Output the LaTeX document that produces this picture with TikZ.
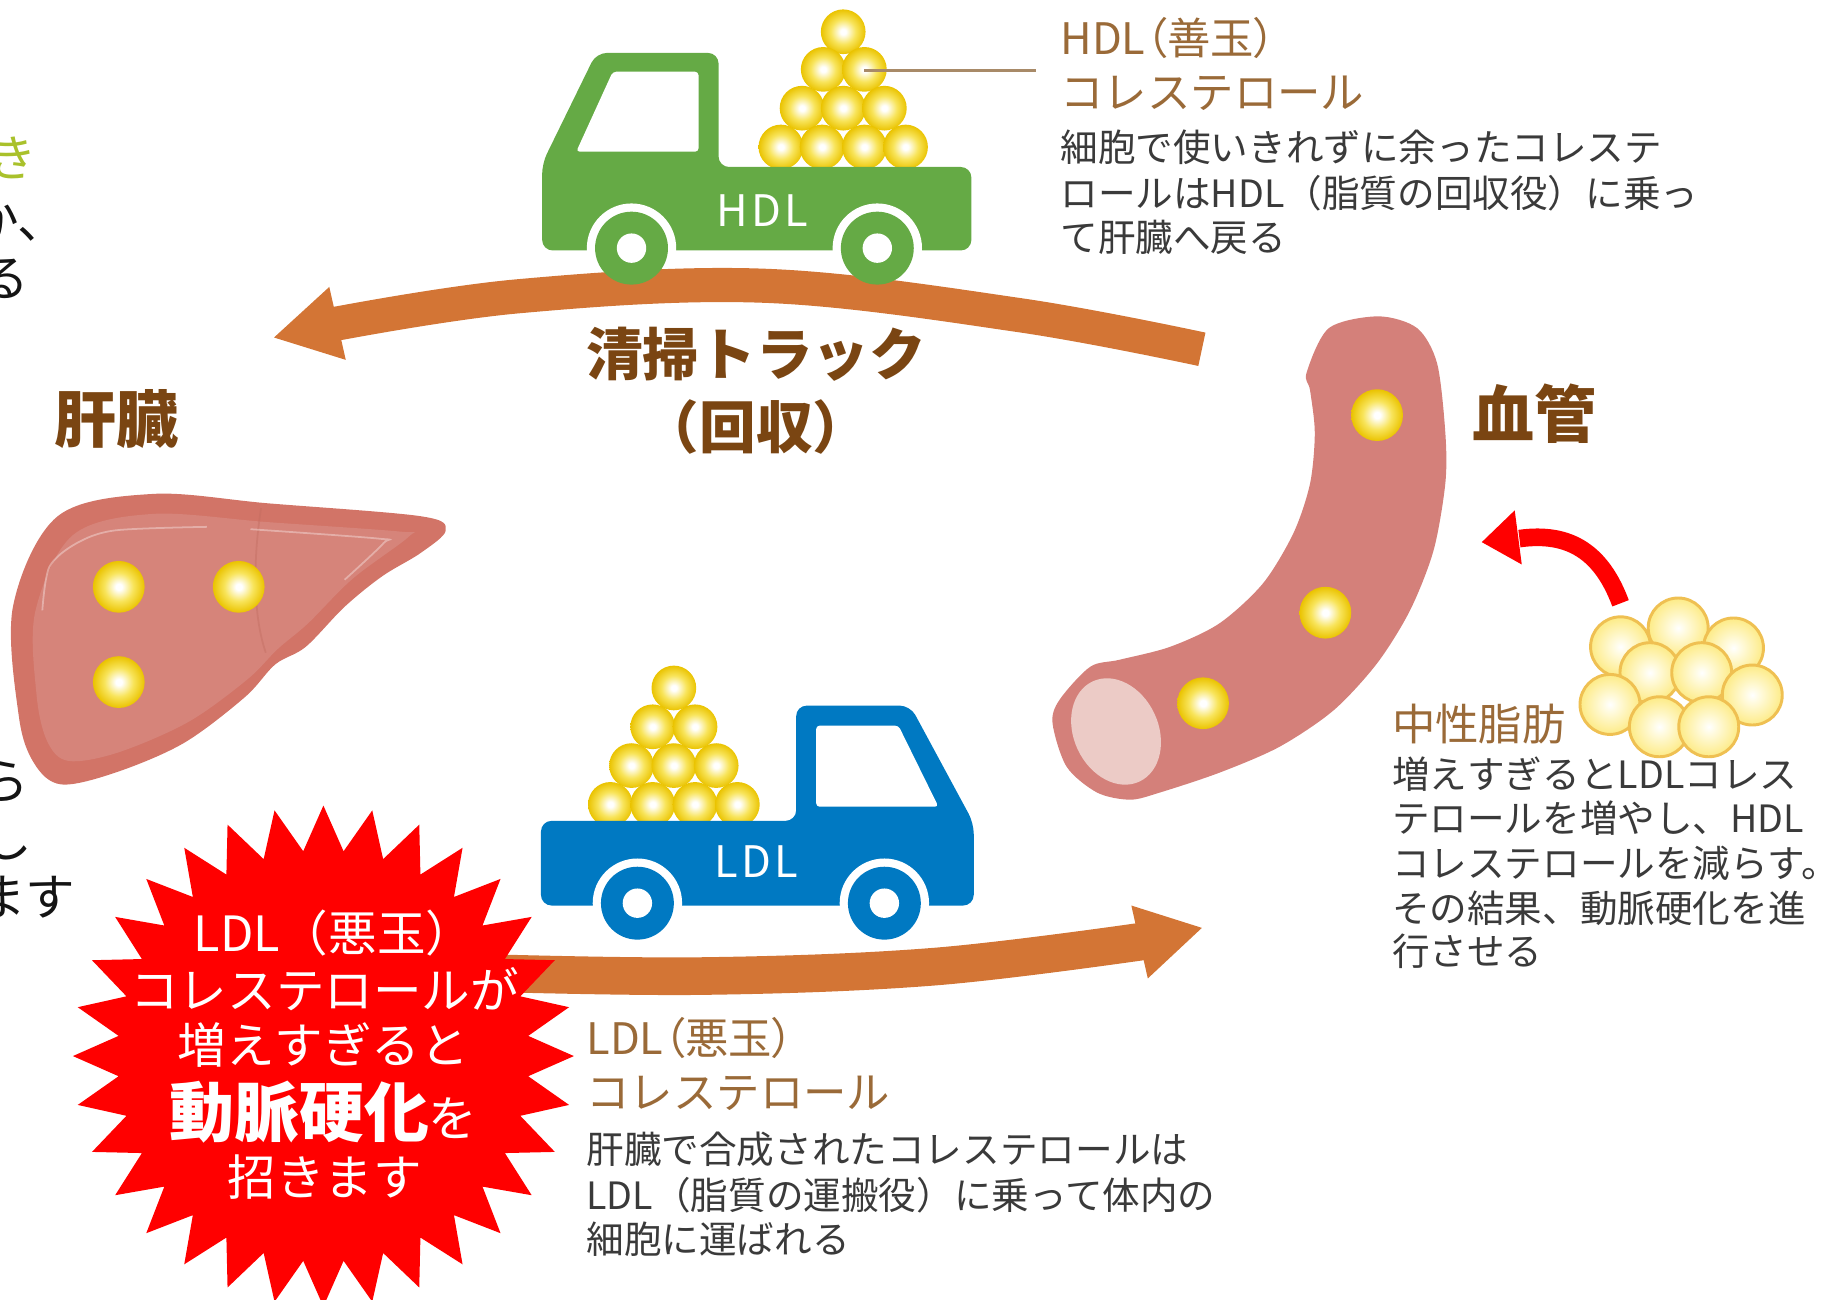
\documentclass[tikz,border=0pt]{standalone}
\usepackage{fontspec}
\newfontfamily\jp{Noto Sans CJK JP}
\usetikzlibrary{calc}

\definecolor{arroworange}{HTML}{D37535}
\definecolor{labelbrown}{HTML}{7A4512}
\definecolor{headtan}{HTML}{9A6A38}
\definecolor{bodygray}{HTML}{3A3A3A}
\definecolor{truckgreen}{HTML}{65AA45}
\definecolor{truckblue}{HTML}{0079C2}
\definecolor{vesselpink}{HTML}{D4807A}
\definecolor{vesselopen}{HTML}{ECCBC6}
\definecolor{liverdark}{HTML}{D27467}
\definecolor{liverlight}{HTML}{D6847A}
\definecolor{burstred}{HTML}{FF0000}
\definecolor{leafgreen}{HTML}{A9C12B}
\definecolor{leadline}{HTML}{A88A68}
\definecolor{dotmid}{HTML}{F8E45A}
\definecolor{dotedge}{HTML}{EAC300}
\definecolor{fatfill}{HTML}{FDEB86}
\definecolor{fatcenter}{HTML}{FFFBE0}
\definecolor{fatline}{HTML}{EFC052}

% cholesterol particle: white core fading to gold rim
\pgfdeclareradialshading{yellowdot}{\pgfpoint{0bp}{0bp}}{color(0bp)=(white); color(3bp)=(white); color(14bp)=(dotmid); color(25bp)=(dotedge); color(50bp)=(dotedge)}
% fat droplet: pale yellow with a soft light centre
\pgfdeclareradialshading{fatball}{\pgfpoint{0bp}{0bp}}{color(0bp)=(white); color(6bp)=(fatcenter); color(25bp)=(fatfill); color(50bp)=(fatfill)}

\tikzset{
  frag/.style={anchor=west, inner sep=0pt, text=black!92, font=\jp\fontsize{12}{14}\selectfont},
  organ/.style={anchor=west, inner sep=0pt, text=labelbrown, font=\jp\bfseries\fontsize{15}{18}\selectfont},
  track/.style={inner sep=0pt, text=labelbrown, font=\jp\bfseries\fontsize{13.7}{16}\selectfont},
  head/.style={anchor=west, inner sep=0pt, text=headtan, font=\jp\fontsize{10.5}{12}\selectfont},
  tighthead/.style={head, font=\jp\fontsize{10.5}{12}\selectfont\addfontfeature{RawFeature=+palt}},
  body/.style={anchor=west, inner sep=0pt, text=bodygray, font=\jp\fontsize{9.1}{11}\selectfont},
  burst/.style={inner sep=0pt, text=white, font=\jp\fontsize{11.75}{14}\selectfont},
  trucktag/.style={inner sep=0pt, text=white, font=\jp\fontsize{10.5}{12}\selectfont\addfontfeature{LetterSpace=8}},
  ydot/.style={shading=yellowdot},
  fatdrop/.style={shade, shading=fatball, draw=fatline, line width=0.25mm},
  flow/.style={arroworange, line width=2.9mm},
}

\begin{document}
\begin{tikzpicture}[x=0.1mm, y=-0.1mm]
\useasboundingbox (0,0) rectangle (1568,1105);
\clip (0,0) rectangle (1568,1105);

% ---------- text running in from the left edge ----------
\node[frag, text=leafgreen] (fragA) at (-11,134) {き};
\node[frag] (fragB) at (-27,187) {か、};
\node[frag] (fragC) at (-18,237) {る};
\node[frag] (fragD) at (-18,665) {ら};
\node[frag] (fragE) at (-16,714) {し};
\node[frag] (fragF) at (-21,763) {ます};

% ---------- liver ----------
\fill[liverdark] plot[smooth cycle, tension=0.55] coordinates {(11,516) (49,439) (130,420) (228,428) (358,439) (379,451) (358,470) (325,490) (293,516) (260,550) (234,565) (208,593) (156,632) (98,657) (52,667) (29,649) (16,609)};
\fill[liverlight] plot[smooth cycle, tension=0.55] coordinates {(30,520) (62,455) (130,437) (228,444) (340,452) (348,456) (300,492) (262,530) (236,552) (210,578) (160,614) (100,640) (58,647) (40,630) (31,590)};
\draw[liverdark!92!black, line width=0.15mm, opacity=0.4] (222,432) .. controls (216,470) and (214,520) .. (226,555);
\draw[white, opacity=0.35, line width=0.15mm] plot[smooth] coordinates {(36,519) (42,482) (65,462) (98,451) (176,448)};
\draw[white, opacity=0.35, line width=0.15mm] plot[smooth] coordinates {(213,450) (322,458) (326,462) (293,493)};
\foreach \px/\py in {101/499, 203/499, 101/580}
  \shade[ydot] (\px,\py) circle[radius=22];

% ---------- blood vessel ----------
\fill[vesselpink] plot[smooth cycle, tension=0.5] coordinates {(1172,269) (1205,279) (1222,309) (1229,368) (1229,411) (1219,468) (1199,519) (1171,564) (1134,604) (1088,635) (1037,657) (986,674) (961,680) (933,674) (907,652) (895,615) (901,595) (927,567) (952,561) (995,550) (1037,530) (1074,496) (1100,453) (1114,411) (1118,368) (1114,332) (1111,317) (1130,279)};
\fill[vesselopen, rotate around={25:(949,622)}] (949,622) ellipse[x radius=36, y radius=47];
\foreach \px/\py in {1171/353, 1127/521, 1023/598}
  \shade[ydot] (\px,\py) circle[radius=22];

% ---------- loads on the trucks ----------
\foreach \px/\py in {717/27, 700/59, 735/59, 682/92, 717/92, 752/92, 664/125, 699/125, 735/125, 770/125}
  \shade[ydot] (\px,\py) circle[radius=19];
\foreach \px/\py in {573/585, 555/618, 591/618, 537/651, 573/651, 609/651, 519/684, 555/684, 591/684, 627/684}
  \shade[ydot] (\px,\py) circle[radius=19];

% ---------- HDL truck (faces left) ----------
\fill[truckgreen, rounded corners=0.9mm] (461,213) -- (461,139) -- (507,45) -- (611,45) -- (611,142) -- (826,142) -- (826,213) -- cycle;
\fill[white, rounded corners=0.3mm] (490,129) -- (521,61) -- (594,61) -- (594,129) -- cycle;
\node[trucktag] (hdlTag) at (648,179) {HDL};

% ---------- LDL truck (faces right) ----------
\fill[truckblue, rounded corners=0.9mm] (460,770) -- (460,698) -- (677,698) -- (677,600) -- (774,600) -- (828,700) -- (828,770) -- cycle;
\fill[white, rounded corners=0.3mm] (694,686) -- (694,617) -- (764,617) -- (798,686) -- cycle;
\node[trucktag] (ldlTag) at (643,733) {LDL};

% wheel arches cut out of the bodies
\foreach \px/\py in {537/211, 746/211, 542/768, 752/768}
  \fill[white] (\px,\py) circle[radius=38];

% ---------- circulation arrows ----------
\draw[flow] plot[smooth, tension=0.6] coordinates {(1022,297) (867,268) (650,243) (440,252) (282,276)};
\fill[arroworange] (233,287) -- (280,244) -- (294,306) -- cycle;

\draw[flow, line width=3.2mm] plot[smooth, tension=0.6] coordinates {(400,827) (595,830) (794,822) (975,800)};
\fill[arroworange] (1022,789) -- (962,770) -- (976,832) -- cycle;

% ---------- wheels ----------
\foreach \px/\py in {537/211, 746/211} {
  \fill[truckgreen] (\px,\py) circle[radius=31];
  \fill[white] (\px,\py) circle[radius=12.5];
}
\foreach \px/\py in {542/768, 752/768} {
  \fill[truckblue] (\px,\py) circle[radius=31];
  \fill[white] (\px,\py) circle[radius=12.5];
}

% ---------- warning starburst ----------
\begin{scope}[shift={(275,898)}]
  \fill[burstred] (0:213) \foreach \i in {1,...,63}{ -- ({\i*5.625}:{213-38*mod(\i,2)}) } -- cycle;
\end{scope}
\node[burst] (burstA) at (284,793) {LDL（悪玉）};
\node[burst] (burstB) at (276,841) {コレステロールが};
\node[burst] (burstC) at (275,889) {増えすぎると};
\node[burst] (burstD) at (275,946) {{\bfseries\fontsize{15.7}{18}\selectfont 動脈硬化}を};
\node[burst] (burstE) at (276,1001) {招きます};

% ---------- neutral fat cluster and its arrow ----------
\foreach \px/\py in {1378/550, 1427/534, 1474/551, 1403/572, 1447/572, 1490/591, 1369/599, 1411/618, 1453/618}
  \path[fatdrop] (\px,\py) circle[radius=25.5];
\coordinate (fatTop) at (1378,513);
\coordinate (fatTip) at (1292,458);
\draw[burstred, line width=1.5mm] (fatTop) .. controls (1362,470) and (1335,452) .. (fatTip);
\fill[burstred] (1260,461) -- (1288,434) -- (1294,480) -- cycle;

% ---------- labels ----------
\node[organ] (liverLabel) at (46,356) {肝臓};
\node[organ] (vesselLabel) at (1251,352) {血管};
\node[track] (trackA) at (643,301) {清掃トラック};
\node[track] (trackB) at (643,363) {（回収）};

% HDL description with its leader
\coordinate (hdlBall) at (735,60);
\coordinate (hdlLead) at (881,60);
\draw[leadline, line width=0.25mm] (hdlBall) -- (hdlLead);
\node[tighthead] (hdlHeadA) at (901,32) {HDL（善玉）};
\node[head] (hdlHeadB) at (901,79) {コレステロール};
\node[body] (hdlTextA) at (901,125) {細胞で使いきれずに余ったコレステ};
\node[body] (hdlTextB) at (901,164) {ロールはHDL（脂質の回収役）に乗っ};
\node[body] (hdlTextC) at (901,202) {て肝臓へ戻る};

% LDL description
\node[tighthead] (ldlHeadA) at (498,883) {LDL（悪玉）};
\node[head] (ldlHeadB) at (498,930) {コレステロール};
\node[body] (ldlTextA) at (498,977) {肝臓で合成されたコレステロールは};
\node[body] (ldlTextB) at (498,1016) {LDL（脂質の運搬役）に乗って体内の};
\node[body] (ldlTextC) at (498,1054) {細胞に運ばれる};

% neutral fat description
\node[head] (fatHead) at (1183,616) {中性脂肪};
\node[body] (fatTextA) at (1183,658) {増えすぎるとLDLコレス};
\node[body] (fatTextB) at (1183,696) {テロールを増やし、HDL};
\node[body] (fatTextC) at (1183,734) {コレステロールを減らす。};
\node[body] (fatTextD) at (1183,772) {その結果、動脈硬化を進};
\node[body] (fatTextE) at (1183,809) {行させる};
\end{tikzpicture}
\end{document}
